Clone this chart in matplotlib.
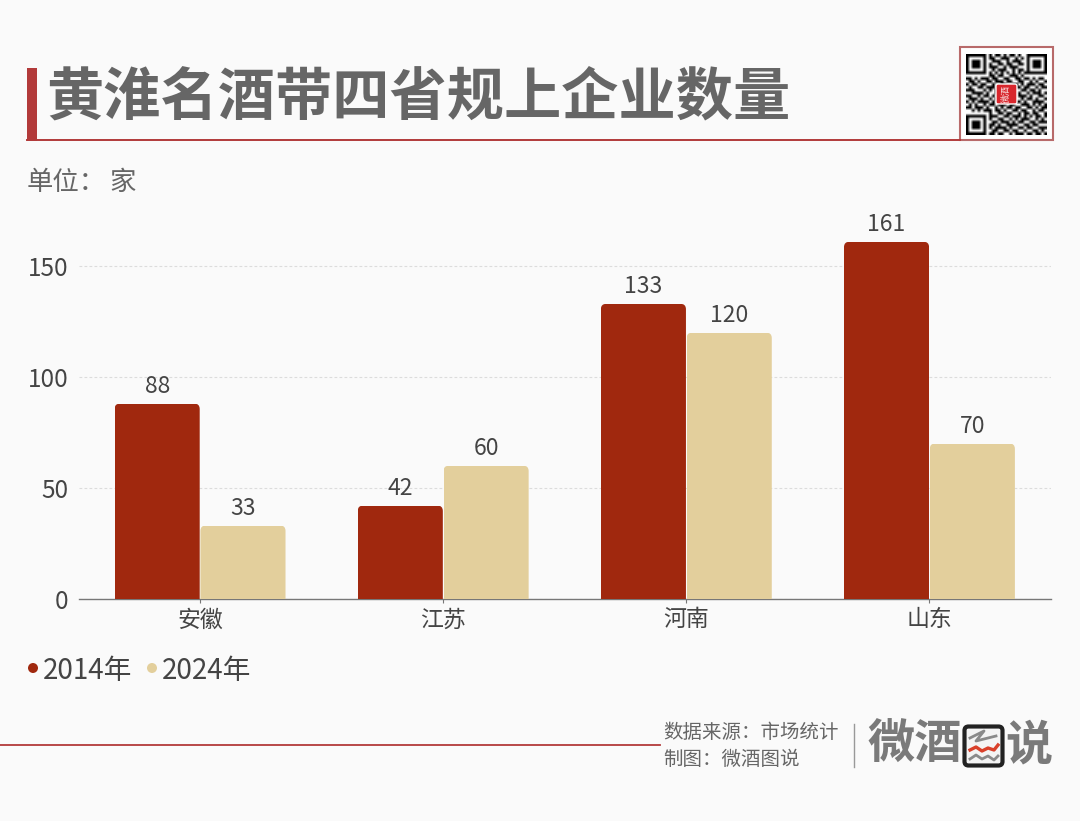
import matplotlib
matplotlib.use('Agg')
import numpy as np
import matplotlib.pyplot as plt
from matplotlib.patches import FancyBboxPatch, Rectangle, Circle

plt.rcParams['font.family'] = ['Noto Sans CJK SC', 'DejaVu Sans']

# Datos
provincias = ['安徽', '江苏', '河南', '山东']
serie_2014 = [88, 42, 133, 161]
serie_2024 = [33, 60, 120, 70]
etiquetas = ['2014年', '2024年']
y_ticks = [0, 50, 100, 150]

titulo = '黄淮名酒带四省规上企业数量'
unidad = '单位：'
unidad_valor = '家'
fuente = '数据来源：市场统计'
autor = '制图：微酒图说'

rojo = '#a0280e'
crema = '#e3cf9c'
gris = '#666666'
fondo = '#fafafa'
linea_roja = '#b23a3a'

W, H = 1080, 821
fig = plt.figure(figsize=(W / 100, H / 100), dpi=100, facecolor=fondo)

# ---------------------------
# Barras
# ---------------------------
ax = fig.add_axes([78.5 / W, 1 - 598.7 / H, 972.5 / W, 400 / H], facecolor='none')
ax.set_xlim(-0.5, 3.5)
ax.set_ylim(0, 400 / 2.217)

x = np.arange(len(provincias))
ancho = 0.353


def barras_redondeadas(xs, valores, color):
    # las esquinas superiores se recortan con una caja redondeada
    barras = ax.bar(xs, valores, width=ancho - 0.003, color=color, zorder=3)
    for b in barras:
        caja = FancyBboxPatch((b.get_x(), -20), b.get_width(), b.get_height() + 20,
                              boxstyle='round,pad=0,rounding_size=0.022',
                              mutation_aspect=110, transform=ax.transData)
        b.set_clip_path(caja)
    for xi, v in zip(xs, valores):
        ax.annotate(str(v), (xi, v), xytext=(0, 6), textcoords='offset pixels',
                    ha='center', va='bottom', fontsize=16.5, color='#444444')


barras_redondeadas(x - ancho / 2, serie_2014, rojo)
barras_redondeadas(x + ancho / 2, serie_2024, crema)

ax.set_yticks(y_ticks)
ax.set_xticks(x)
ax.set_xticklabels(provincias)
ax.tick_params(axis='x', length=3, width=0.8, color='#777777', labelsize=16.5,
               labelcolor='#444444', pad=4)
ax.tick_params(axis='y', length=0, labelsize=17.5, labelcolor='#444444', pad=7)
ax.grid(axis='y', color='#dcdcdc', linestyle=(0, (2.5, 2)), linewidth=0.8, zorder=0)
ax.set_axisbelow(True)
for lado in ['top', 'right', 'left']:
    ax.spines[lado].set_visible(False)
ax.spines['bottom'].set_color('#777777')
ax.spines['bottom'].set_linewidth(1.0)

# ---------------------------
# Capa en pixeles: cabecera, leyenda y pie
# ---------------------------
capa = fig.add_axes([0, 0, 1, 1], facecolor='none')
capa.set_xlim(0, W)
capa.set_ylim(H, 0)
capa.axis('off')

capa.add_patch(Rectangle((27, 68), 10, 73, color=linea_roja, lw=0))
capa.plot([27, 960], [140.5, 140.5], color=linea_roja, lw=1.4)
capa.text(46.5, 97, titulo, fontsize=41.2, fontweight='bold', color=gris, va='center')
capa.text(27, 182, unidad, fontsize=19, color=gris, va='center')
capa.text(109, 182, unidad_valor, fontsize=19, color=gris, va='center')

# Leyenda
capa.add_patch(Circle((33, 668), 5, color=rojo, lw=0))
capa.text(43, 671, etiquetas[0], fontsize=20, color='#444444', va='center')
capa.add_patch(Circle((152, 668), 5, color=crema, lw=0))
capa.text(162, 671, etiquetas[1], fontsize=20, color='#444444', va='center')

# Pie
capa.plot([0, 660], [745, 745], color=linea_roja, lw=1.3)
capa.text(663.5, 733, fuente, fontsize=14, color=gris, va='center')
capa.text(663.5, 759, autor, fontsize=14, color=gris, va='center')
capa.plot([854, 854], [724, 767], color='#999999', lw=1)

# Logotipo
capa.text(867, 745, '微酒', fontsize=34, fontweight='bold', color='#7a7a7a', va='center')
capa.text(1005, 745, '说', fontsize=34, fontweight='bold', color='#7a7a7a', va='center')
capa.add_patch(FancyBboxPatch((964.5, 726.5), 38, 39, boxstyle='round,pad=0,rounding_size=4',
                              fc='#f4f4f4', ec='#222222', lw=3))
capa.plot([970, 984, 976, 996], [738, 731, 741, 736], color='#8a8a8a', lw=2)
ondas_x = [970, 976, 982, 988, 994, 998]
capa.plot(ondas_x, [750, 747, 751, 748, 750, 745], color='#d9402a', lw=2.4)
capa.plot(ondas_x, [759, 755, 759, 756, 760, 756], color='#8a8a8a', lw=2)

# ---------------------------
# Codigo QR
# ---------------------------
capa.add_patch(Rectangle((960, 47), 93, 93, fc='white', ec='#b86a6a', lw=1.5))
filas_qr = [
    '1111111010110101101001111111',
    '1000001011001110010101000001',
    '1011101001110010111001011101',
    '1011101010011011001101011101',
    '1011101011100101110001011101',
    '1000001001011100101101000001',
    '1111111010101010101011111111',
    '0000000011011001110100000000',
    '1101011101100110011011010110',
    '0110100110111011001100101001',
    '1011011001001100110101110110',
    '0100110111010000011011001011',
    '1110001010100000000110110100',
    '0011110100100000001001011101',
    '1100101101000000001110100110',
    '0111010010100000000101101001',
    '1010111101010000011010011110',
    '0101001011011101100111010101',
    '1101110100101011011001101011',
    '0010101110110100110110010110',
    '0000000010011011001011011001',
    '1111111011100110111010101101',
    '1000001010011001010111001010',
    '1011101001101110101100110111',
    '1011101011010011110011011000',
    '1011101010111101001101100111',
    '1000001001100110110010011010',
    '1111111011011001011101101101',
]
matriz = np.array([[int(c) for c in f] for f in filas_qr])
capa.imshow(1 - matriz, cmap='gray', vmin=0, vmax=1, extent=(966, 1047, 135, 54),
            interpolation='bilinear', aspect='auto', zorder=2)
capa.set_xlim(0, W)
capa.set_ylim(H, 0)
capa.add_patch(FancyBboxPatch((996, 84), 21, 20, boxstyle='round,pad=0,rounding_size=2',
                              fc='#d8262c', ec='white', lw=1, zorder=3))
capa.text(1006.5, 94, '微酒', fontsize=6.5, color='#f7dcdc', ha='center', va='center',
          rotation=90, zorder=4)

plt.savefig('out.png', dpi=100, facecolor=fondo)
